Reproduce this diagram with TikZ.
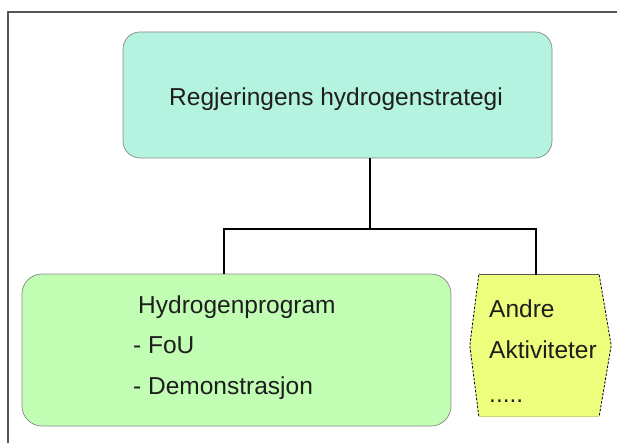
\documentclass[tikz,border=0pt]{standalone}
\usepackage{fontspec}
\setmainfont{Liberation Sans}
\usetikzlibrary{calc}

\definecolor{mintfill}{HTML}{B3F3DF}
\definecolor{greenfill}{HTML}{C2FDB4}
\definecolor{yellowfill}{HTML}{ECFE7C}
\definecolor{edgegray}{HTML}{555555}
\definecolor{textdark}{HTML}{1E1E1E}

\tikzset{
  box/.style={rounded corners=17pt, draw=edgegray!70, line width=0.7pt, inner sep=0pt},
  lbl/.style={anchor=base west, inner sep=0pt, text=textdark, font=\fontsize{24.5}{29}\selectfont},
  conn/.style={line width=1.8pt, black},
  frame/.style={line width=1.4pt, edgegray}
}

\begin{document}
\begin{tikzpicture}[x=1pt, y=-1pt]
  \useasboundingbox (0,0) rectangle (617,443);
  \fill[white] (0,0) rectangle (617,443);

  % outer frame: left and top edges
  \coordinate (fA) at (8,443);
  \coordinate (fB) at (8,12);
  \coordinate (fC) at (617,12);
  \draw[frame] (fA) -- (fB) -- (fC);

  % boxes
  \node[box, fill=mintfill, minimum width=429pt, minimum height=126pt] (strat) at (337.5,95) {};
  \node[box, fill=greenfill, rounded corners=20pt, minimum width=429pt, minimum height=152pt] (prog) at (236.5,350) {};
  \node[inner sep=0pt, minimum width=120pt, minimum height=141pt] (andre) at (539,345.5) {};

  % hexagonal box for other activities
  \fill[yellowfill] (andre.north west) -- (andre.north east) -- ([xshift=12pt]andre.east)
    -- (andre.south east) -- (andre.south west) -- ([xshift=-9pt]andre.west) -- cycle;
  \draw[line width=0.8pt, edgegray] (andre.north west) -- (andre.north east);
  \draw[line width=0.8pt, black, dash pattern=on 2.5pt off 1.5pt]
    (andre.north east) -- ([xshift=12pt]andre.east) -- (andre.south east);
  \draw[line width=0.8pt, black, dash pattern=on 2.5pt off 1.5pt]
    (andre.north west) -- ([xshift=-9pt]andre.west) -- (andre.south west);
  \draw[line width=0.6pt, yellowfill!70!gray] (andre.south west) -- (andre.south east);

  % connectors
  \coordinate (jm) at (370,229);
  \coordinate (jl) at (224,229);
  \coordinate (jr) at (536,229);
  \draw[conn] (strat.south -| jm) -- (jm);
  \draw[conn] (prog.north -| jl) -- (jl) -- (jr) -- (andre.north -| jr);

  % labels
  \node[lbl] (t1) at (169,106) {Regjeringens hydrogenstrategi};
  \node[lbl] (t2) at (138,313) {Hydrogenprogram};
  \node[lbl] (t3) at (133,353) {- FoU};
  \node[lbl] (t4) at (133,394) {- Demonstrasjon};
  \node[lbl] (t5) at (489,317) {Andre};
  \node[lbl] (t6) at (489,358) {Aktiviteter};
  \node[lbl] (t7) at (489,402) {.....};
\end{tikzpicture}
\end{document}
